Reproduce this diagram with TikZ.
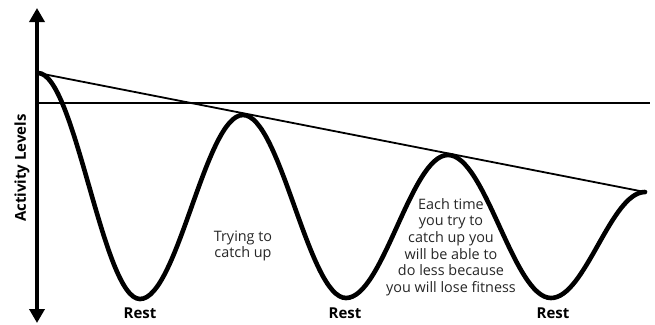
\documentclass[tikz,border=0pt]{standalone}
\usepackage{fontspec}
\setmainfont{Open Sans}
\usetikzlibrary{arrows.meta}
\tikzset{
  wave/.style={line width=4.6pt, line join=round, line cap=round},
  thinline/.style={line width=1.8pt},
  axisline/.style={line width=3.6pt, {Triangle[width=15pt,length=14pt]}-{Triangle[width=15pt,length=14pt]}},
  restlbl/.style={font=\fontsize{15}{17}\selectfont\bfseries, inner sep=0pt},
  note/.style={font=\fontsize{14.4}{16.6}\selectfont, align=center, text=black!85, inner sep=0pt},
}
\begin{document}
\begin{tikzpicture}[x=1pt,y=-1pt]
\useasboundingbox (0,0) rectangle (655,324);
% key points
\coordinate (p0) at (38,73);
\coordinate (t1) at (140,299);
\coordinate (p1) at (243,115);
\coordinate (t2) at (346,298);
\coordinate (p2) at (448,155);
\coordinate (t3) at (551,298);
\coordinate (p3) at (645,192);
\coordinate (hl) at (38,103);
\coordinate (hr) at (650,103);
\coordinate (atop) at (37,8);
\coordinate (abot) at (37,323);
% horizontal reference line
\draw[thinline] (hl) -- (hr);
% tangent line
\draw[thinline] (p0) -- (p3);
% wave
\draw[wave] (p0) .. controls (75.07,73) and (102.93,299) .. (t1)
  .. controls (177.43,299) and (205.57,115) .. (p1)
  .. controls (280.43,115) and (308.57,298) .. (t2)
  .. controls (383.07,298) and (410.93,155) .. (p2)
  .. controls (485.43,155) and (513.57,298) .. (t3)
  .. controls (585.16,298) and (610.84,192) .. (p3);
% axis
\draw[axisline] (abot) -- (atop);
\node[restlbl, rotate=90] (ylab) at (22,168) {Activity Levels};
% labels
\node[restlbl] (r1) at (140,313) {Rest};
\node[restlbl] (r2) at (345,313) {Rest};
\node[restlbl] (r3) at (553,313) {Rest};
\node[note] (n1) at (243,246) {Trying to\\catch up};
\node[note] (n2) at (451,247) {Each time\\you try to\\catch up you\\will be able to\\do less because\\you will lose fitness};
\end{tikzpicture}
\end{document}
